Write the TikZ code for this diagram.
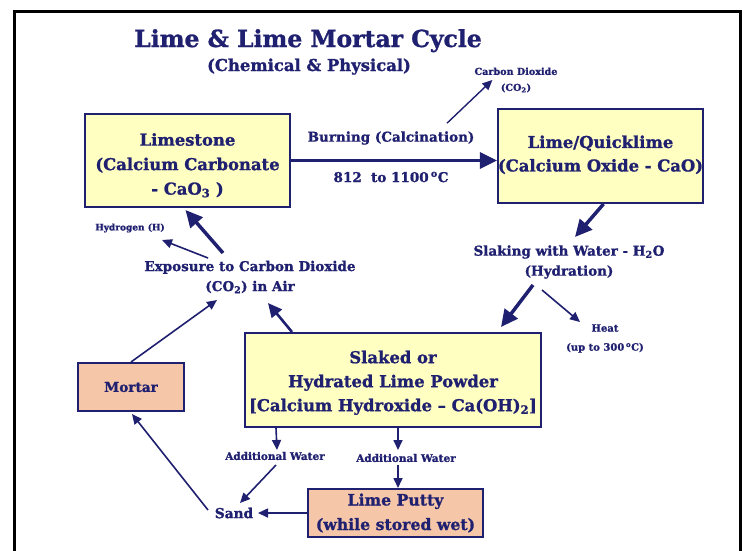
\documentclass[tikz,border=0pt]{standalone}
\usepackage{fontspec}
\setmainfont{DejaVu Serif}[BoldFeatures={FakeBold=1.2}]
\usetikzlibrary{arrows.meta,calc}
\definecolor{navy}{HTML}{202070}
\definecolor{boxyellow}{HTML}{FFFFC2}
\definecolor{boxsalmon}{HTML}{F5C6A8}
\newcommand\fsz[2]{\fontsize{#1}{#2}\selectfont\bfseries}
\begin{document}
\begin{tikzpicture}[x=1pt,y=-1pt,
  every node/.style={text=navy,inner sep=0pt},
  ybox/.style={draw=navy,line width=2pt,fill=boxyellow,align=center},
  sbox/.style={draw=navy,line width=2pt,fill=boxsalmon,align=center},
  lbl/.style={align=center},
  big/.style={draw=navy,line width=3.5pt,-{Triangle[length=17pt,width=16pt]}},
  mid/.style={draw=navy,line width=2.6pt,-{Triangle[length=14pt,width=13pt]}},
  thin/.style={draw=navy,line width=1.6pt,-{Triangle[length=10pt,width=9pt]}},
]
\useasboundingbox (0,0) rectangle (744,550);
\fill[white] (0,0) rectangle (744,550);
\draw[black,line width=3pt] (14.5,580) -- (14.5,11.5) -- (740.5,11.5) -- (740.5,580);

% titles
\node[font=\fsz{23.5}{28},anchor=base] (title) at (308,47) {Lime \& Lime Mortar Cycle};
\node[font=\fsz{16.4}{20},anchor=base] (subtitle) at (309,71) {(Chemical \& Physical)};

% boxes
\node[ybox,minimum width=205pt,minimum height=93pt,font=\fsz{16.4}{24.5}] (limestone) at (187.5,160.5)
  {\rule{0pt}{22pt}Limestone\\(Calcium Carbonate\\- CaO\textsubscript{3} )};
\node[ybox,minimum width=205pt,minimum height=94pt,font=\fsz{16.4}{23.5}] (lime) at (600.5,156)
  {Lime/Quicklime\\(Calcium Oxide - CaO)\rule[-5pt]{0pt}{5pt}};
\node[ybox,minimum width=296pt,minimum height=94pt,font=\fsz{16.4}{24}] (slaked) at (393,380)
  {\rule{0pt}{18pt}Slaked or\\Hydrated Lime Powder\\{}[Calcium Hydroxide -- Ca(OH)\textsubscript{2}]};
\node[sbox,minimum width=106pt,minimum height=48pt,font=\fsz{13.6}{16}] (mortar) at (131,387) {Mortar};
\node[sbox,minimum width=175pt,minimum height=48pt,font=\fsz{15.7}{24.5}] (putty) at (395.5,513)
  {Lime Putty\\(while stored wet)};

% labels
\node[lbl,font=\fsz{9.6}{16}] (co2lbl) at (516,80) {Carbon Dioxide\\(CO\textsubscript{2})};
\node[lbl,font=\fsz{13.5}{16}] (burnlbl) at (391,138) {Burning (Calcination)};
\node[lbl,font=\fsz{13.5}{16}] (templbl) at (391,177) {812\ \ to 1100\,\textsuperscript{o}C};
\node[lbl,font=\fsz{13.5}{20}] (slaking) at (569,262) {Slaking with Water - H\textsubscript{2}O\\(Hydration)};
\node[lbl,font=\fsz{10}{19}] (heat) at (605,338.5) {Heat\\(up to 300\,\textsuperscript{o}C)};
\node[lbl,font=\fsz{9}{12}] (hydrogen) at (130,228) {Hydrogen (H)};
\node[lbl,font=\fsz{13.5}{20}] (exposure) at (250,277) {Exposure to Carbon Dioxide\\(CO\textsubscript{2}) in Air};
\node[lbl,font=\fsz{10.5}{12}] (addwL) at (275,456) {Additional Water};
\node[lbl,font=\fsz{10.5}{12}] (addwR) at (406,458) {Additional Water};
\node[lbl,font=\fsz{13.7}{16}] (sand) at (234,513) {Sand};

% connectors
\draw[big,line width=3pt] (limestone.east) -- (limestone.east -| lime.west);
\draw[thin,line width=1.4pt] ($(burnlbl.north)+(56,-8)$) -- ($(co2lbl.west)+(18,0)$);
\draw[big] ([xshift=3pt]lime.south) -- ($(slaking.center)+(6,-25)$);
\draw[big] ($(slaking.center)+(-36,23)$) -- ($(slaked.north east)+(-41,-5)$);
\draw[thin] ($(slaking.center)+(-27,28)$) -- ($(heat.center)+(-25,-16.5)$);
\draw[big] ($(exposure.center)+(-27,-24)$) -- ($(limestone.south)+(-2,2)$);
\draw[thin] ($(exposure.center)+(-42,-19)$) -- ($(hydrogen.center)+(32,12)$);
\draw[thin] (mortar.north) -- ($(exposure.center)+(-33,23)$);
\draw[mid] ($(slaked.north west)+(48,0)$) -- ($(exposure.center)+(18,26)$);
\draw[thin] ($(slaked.south west)+(32,0)$) -- ($(addwL.center)+(2,-6)$);
\draw[thin] ($(addwL.center)+(1,9)$) -- ($(sand.center)+(6,-10)$);
\draw[thin] (putty.west) -- ($(sand.center)+(24,0)$);
\draw[thin] ($(sand.center)+(-26,-3)$) -- ($(mortar.south)+(1,2)$);
\draw[thin] ($(slaked.south)+(5,0)$) -- ($(addwR.center)+(-8,-8)$);
\draw[thin] ($(addwR.center)+(-8,7)$) -- ([xshift=2.5pt]putty.north);
\end{tikzpicture}
\end{document}
